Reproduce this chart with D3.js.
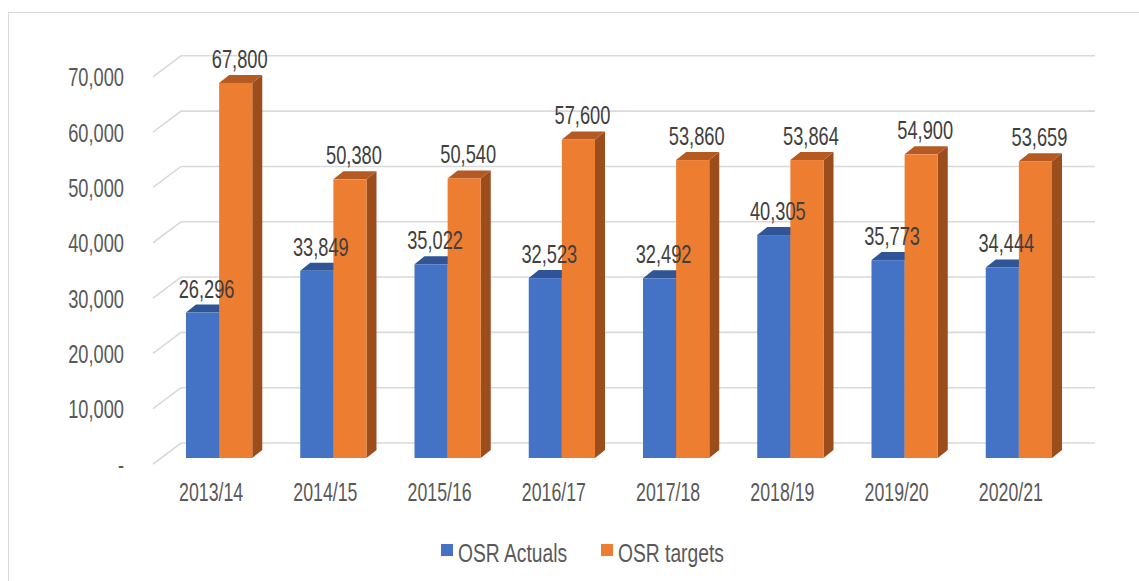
<!DOCTYPE html>
<html>
<head>
<meta charset="utf-8">
<script src="https://cdn.jsdelivr.net/npm/d3@7/dist/d3.min.js"></script>
<style>
  html, body { margin: 0; padding: 0; background: #fff; }
  svg { display: block; font-family: "Liberation Sans", Arial, sans-serif; }
</style>
</head>
<body>
<svg id="chart" width="1139" height="581"></svg>
<script>
// Own source revenue: actual collections vs targets per fiscal year
const categories = ["2013/14", "2014/15", "2015/16", "2016/17", "2017/18", "2018/19", "2019/20", "2020/21"];
const actuals = [26296, 33849, 35022, 32523, 32492, 40305, 35773, 34444];
const targets = [67800, 50380, 50540, 57600, 53860, 53864, 54900, 53659];
const seriesNames = ["OSR Actuals", "OSR targets"];
const yTicks = [0, 10000, 20000, 30000, 40000, 50000, 60000, 70000];

const colors = {
  "OSR Actuals": { front: "#4472C4", top: "#2F5597", side: "#2B4C87" },
  "OSR targets": { front: "#ED7D31", top: "#B45A22", side: "#9C4D1C" }
};

const svg = d3.select("#chart");
const W = 1139, H = 581;
const SX = 0.73;           // horizontal squeeze applied to text
const FS = 25;             // font size

// outer frame (right and bottom edges fall outside the page)
svg.append("rect")
  .attr("x", 8.5).attr("y", 12.5)
  .attr("width", W + 20).attr("height", H + 20)
  .attr("fill", "none").attr("stroke", "#d9d9d9").attr("stroke-width", 1);

// back-wall value scale
const y = d3.scaleLinear().domain([0, 70000]).range([443, 55.8]);
// 3D offsets
const wallLeft = 181, wallRight = 1095;
const floorDX = -28, floorDY = 21;   // front edge of side wall relative to back wall
const barDY = 15;                     // front face of bars relative to back wall
const depthX = 10, depthY = -8;       // extrusion of bar tops/sides

// category band scale (front faces of the bars)
const x = d3.scaleBand().domain(categories).range([162, 1076])
  .paddingInner(0.42).paddingOuter(0.21);
const xs = d3.scaleBand().domain(seriesNames).range([0, x.bandwidth()]).padding(0);

// gridlines: slanted side-wall segment + horizontal back-wall line
const grid = svg.append("g").attr("fill", "none")
  .attr("stroke", "#d9d9d9").attr("stroke-width", 1.6);
yTicks.forEach(v => {
  const yb = y(v);
  grid.append("path")
    .attr("d", `M${wallLeft + floorDX},${yb + floorDY}L${wallLeft},${yb}L${wallRight},${yb}`);
});

function squeezedText(g, tx, ty, str, anchor, fill, sx = SX) {
  return g.append("text")
    .attr("transform", `translate(${tx},${ty}) scale(${sx},1)`)
    .attr("text-anchor", anchor)
    .attr("font-size", FS)
    .attr("fill", fill)
    .text(str);
}

// y-axis labels
const fmt = d3.format(",");
const yAxis = svg.append("g");
yTicks.forEach(v => {
  squeezedText(yAxis, 124, y(v) + floorDY + 9.5, v === 0 ? "-" : fmt(v), "end", "#595959");
});

// bars
const data = categories.map((c, i) => ({ cat: c, vals: [
  { name: seriesNames[0], v: actuals[i] },
  { name: seriesNames[1], v: targets[i] }
]}));

const bars = svg.append("g");
data.forEach(d => {
  d.vals.forEach(s => {
    const x0 = x(d.cat) + xs(s.name);
    const w = xs.bandwidth();
    const yTop = y(s.v) + barDY;
    const yBot = y(0) + barDY;
    const c = colors[s.name];
    const g = bars.append("g");
    // side face
    g.append("path")
      .attr("d", `M${x0 + w},${yTop}L${x0 + w + depthX},${yTop + depthY}L${x0 + w + depthX},${yBot + depthY}L${x0 + w},${yBot}Z`)
      .attr("fill", c.side);
    // top face
    g.append("path")
      .attr("d", `M${x0},${yTop}L${x0 + depthX},${yTop + depthY}L${x0 + w + depthX},${yTop + depthY}L${x0 + w},${yTop}Z`)
      .attr("fill", c.top);
    // front face
    g.append("rect")
      .attr("x", x0).attr("y", yTop)
      .attr("width", w).attr("height", yBot - yTop)
      .attr("fill", c.front);
  });
});

// data labels
const labels = svg.append("g");
data.forEach(d => {
  d.vals.forEach(s => {
    const cx = x(d.cat) + xs(s.name) + xs.bandwidth() / 2 + 4;
    squeezedText(labels, cx, y(s.v) + barDY - 15, fmt(s.v), "middle", "#404040");
  });
});

// category labels
const xAxis = svg.append("g");
categories.forEach(c => {
  squeezedText(xAxis, x(c) + x.bandwidth() / 2 - 8, 501, c, "middle", "#595959", 0.71);
});

// legend
const legend = svg.append("g");
const legendItems = [
  { name: seriesNames[0], sx: 441 },
  { name: seriesNames[1], sx: 601 }
];
legendItems.forEach(it => {
  legend.append("rect")
    .attr("x", it.sx).attr("y", 544)
    .attr("width", 12).attr("height", 12)
    .attr("fill", colors[it.name].front);
  squeezedText(legend, it.sx + 17, 562, it.name, "start", "#595959", 0.77);
});
</script>
</body>
</html>
